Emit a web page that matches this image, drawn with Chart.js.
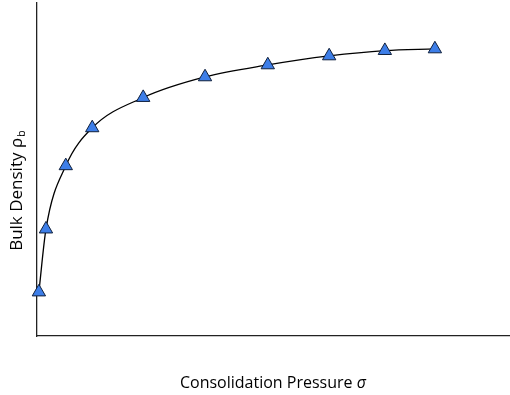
<!DOCTYPE html>
<html>
<head>
<meta charset="utf-8">
<script src="https://cdn.jsdelivr.net/npm/chart.js@4"></script>
<style>
  html, body { margin: 0; padding: 0; background: #fff; }
  #wrap { width: 510px; height: 395px; position: relative; }
</style>
</head>
<body>
<div id="wrap"><canvas id="chart" width="510" height="395"></canvas></div>
<script>
// Consolidation pressure (arbitrary units) and bulk density (arbitrary units)
const pressure = [0.4, 1.9, 6.1, 11.7, 22.5, 35.6, 48.9, 61.9, 73.7, 84.3];
const density = [13.2, 32.1, 51.1, 62.5, 71.6, 77.8, 81.4, 84.1, 85.7, 86.2];
const xTitle = 'Consolidation Pressure ';
const xSymbol = '\u03C3';
const yTitle = 'Bulk Density \u03C1';
const ySub = 'b';

const FONT = '"Open Sans", Lato, sans-serif';

// draws the axis titles by hand so the subscript / italic symbol can be done
const titlePlugin = {
    id: 'axisTitles',
    afterDraw(chart) {
        const ctx = chart.ctx;
        ctx.save();
        ctx.fillStyle = '#000';
        ctx.textBaseline = 'alphabetic';
        ctx.textAlign = 'left';

        // x title, symbol in italics
        ctx.font = '16px ' + FONT;
        const a = ctx.measureText(xTitle).width;
        ctx.font = 'italic 16px ' + FONT;
        const b = ctx.measureText(xSymbol).width;
        const x0 = 273 - (a + b) / 2;
        ctx.font = '16px ' + FONT;
        ctx.fillText(xTitle, x0, 388);
        ctx.font = 'italic 16px ' + FONT;
        ctx.fillText(xSymbol, x0 + a, 388);

        // y title, rotated
        ctx.translate(22, 191);
        ctx.rotate(-Math.PI / 2);
        ctx.font = '17px ' + FONT;
        const w1 = ctx.measureText(yTitle).width;
        ctx.font = '11px ' + FONT;
        const w2 = ctx.measureText(ySub).width;
        const start = -(w1 + w2) / 2;
        ctx.font = '17px ' + FONT;
        ctx.fillText(yTitle, start, 0);
        ctx.font = '11px ' + FONT;
        ctx.fillText(ySub, start + w1 + 1, 3);
        ctx.restore();
    }
};

const points = pressure.map((x, i) => ({ x, y: density[i] }));

new Chart(document.getElementById('chart'), {
    type: 'scatter',
    data: {
        datasets: [{
            data: points,
            showLine: true,
            borderColor: '#000',
            borderWidth: 1.3,
            cubicInterpolationMode: 'monotone',
            pointStyle: 'triangle',
            pointRadius: 7.7,
            pointHoverRadius: 7.7,
            pointBackgroundColor: '#3d7ee8',
            pointBorderColor: '#10203c',
            pointBorderWidth: 1,
            clip: false
        }]
    },
    options: {
        responsive: false,
        animation: false,
        layout: { autoPadding: false, padding: { left: 37, top: 3, right: 1, bottom: 59 } },
        plugins: { legend: { display: false }, tooltip: { enabled: false } },
        scales: {
            x: {
                type: 'linear', min: 0, max: 100,
                grid: { display: false, drawTicks: false },
                border: { display: true, color: '#222', width: 1.3 },
                ticks: { display: false }
            },
            y: {
                type: 'linear', min: 0, max: 100,
                grid: { display: false, drawTicks: false },
                border: { display: true, color: '#222', width: 1.3 },
                ticks: { display: false }
            }
        }
    },
    plugins: [titlePlugin]
});
</script>
</body>
</html>
